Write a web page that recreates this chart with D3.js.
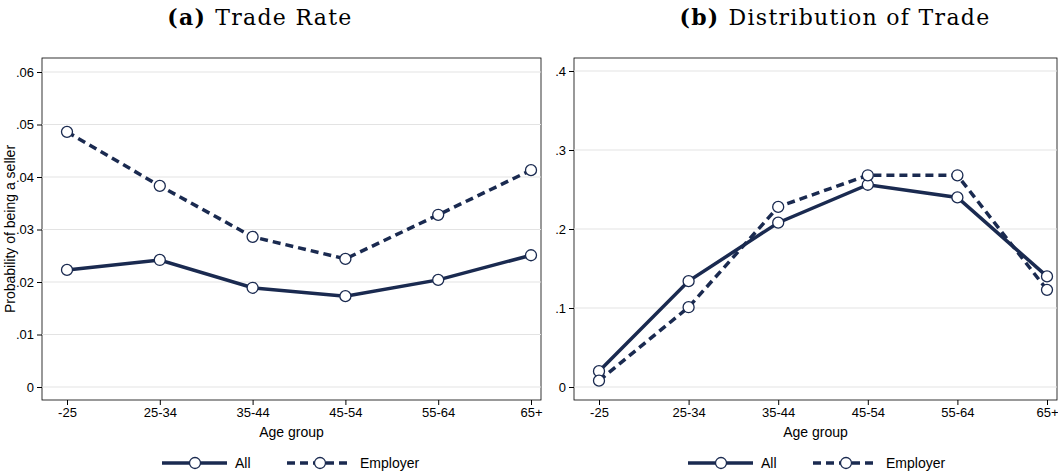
<!DOCTYPE html>
<html><head><meta charset="utf-8">
<script src="https://cdn.jsdelivr.net/npm/d3@7"></script>
<style>body{margin:0;background:#fff}</style>
</head><body>
<script>
var ages = ['-25','25-34','35-44','45-54','55-64','65+'];
var rateAll = [0.0223, 0.0242, 0.0189, 0.0173, 0.0204, 0.0251];
var rateEmp = [0.0486, 0.0383, 0.0286, 0.0244, 0.0328, 0.0413];
var distAll = [0.020, 0.134, 0.208, 0.256, 0.240, 0.140];
var distEmp = [0.008, 0.101, 0.228, 0.268, 0.268, 0.123];
var rateTicks = [0, .01, .02, .03, .04, .05, .06];
var distTicks = [0, .1, .2, .3, .4];
var navy = '#1a2a50';
var sans = "'Liberation Sans', Arial, sans-serif";

var svg = d3.select('body').append('svg').attr('width', 1058).attr('height', 474);

function panel(o) {
  var g = svg.append('g');
  var x = d3.scalePoint().domain(ages).range([o.x0 + 25, o.x1 - 10]);
  var y = d3.scaleLinear().domain(o.dom).range([387, o.yTop]);
  g.append('rect').attr('x', o.x0).attr('y', 58).attr('width', o.x1 - o.x0).attr('height', 342)
    .attr('fill', 'none').attr('stroke', '#000').attr('stroke-width', 0.8);
  g.selectAll('.grid').data(o.ticks).enter().append('line')
    .attr('x1', o.x0).attr('x2', o.x1).attr('y1', function(d){return y(d);}).attr('y2', function(d){return y(d);})
    .attr('stroke', '#e3e3e3').attr('stroke-width', 1);
  var fmt = function(d){ return d === 0 ? '0' : d3.format('.2~f')(d).replace(/^0/, ''); };
  g.append('g').attr('transform', 'translate(' + o.x0 + ',0)')
    .call(d3.axisLeft(y).tickValues(o.ticks).tickFormat(fmt).tickSize(5))
    .call(function(a){ a.select('.domain').remove(); a.selectAll('text').attr('font-size', 13).attr('fill', '#000').attr('font-family', sans); });
  g.append('g').attr('transform', 'translate(0,400)')
    .call(d3.axisBottom(x).tickSize(5))
    .call(function(a){ a.select('.domain').remove(); a.selectAll('text').attr('font-size', 13).attr('fill', '#000').attr('font-family', sans); });
  g.append('text').attr('x', (o.x0 + o.x1) / 2).attr('y', 437).attr('text-anchor', 'middle')
    .attr('font-size', 14).attr('font-family', sans).text('Age group');
  var t = g.append('text').attr('x', o.titleX).attr('y', 25).attr('text-anchor', 'middle')
    .attr('font-size', 22).attr('letter-spacing', 1.3).attr('font-family', "'DejaVu Serif', serif");
  t.append('tspan').attr('font-weight', 'bold').text(o.tag + ' ');
  t.append('tspan').text(o.title);
  var line = d3.line().x(function(d, i){ return x(ages[i]); }).y(function(d){ return y(d); });
  [[o.all, null], [o.emp, '8,5']].forEach(function(s){
    g.append('path').datum(s[0]).attr('d', line).attr('fill', 'none').attr('stroke', navy)
      .attr('stroke-width', 3.5).attr('stroke-dasharray', s[1]);
  });
  [o.all, o.emp].forEach(function(s){
    g.selectAll(null).data(s).enter().append('circle')
      .attr('cx', function(d, i){ return x(ages[i]); }).attr('cy', function(d){ return y(d); })
      .attr('r', 5.5).attr('fill', '#fff').attr('stroke', navy).attr('stroke-width', 1.3);
  });
  var lx = o.legX, ly = 463;
  [['All', null, lx], ['Employer', '8,5', lx + 125]].forEach(function(l){
    g.append('line').attr('x1', l[2]).attr('x2', l[2] + 65).attr('y1', ly).attr('y2', ly)
      .attr('stroke', navy).attr('stroke-width', 3.5).attr('stroke-dasharray', l[1]);
    g.append('circle').attr('cx', l[2] + 33).attr('cy', ly).attr('r', 5.5).attr('fill', '#fff')
      .attr('stroke', navy).attr('stroke-width', 1.3);
    g.append('text').attr('x', l[2] + 73).attr('y', ly + 5).attr('font-size', 14)
      .attr('font-family', sans).text(l[0]);
  });
}

panel({x0: 42, x1: 541, dom: [0, .06], yTop: 72, ticks: rateTicks, all: rateAll, emp: rateEmp,
  tag: '(a)', title: 'Trade Rate', legX: 162, titleX: 260});
panel({x0: 574, x1: 1057, dom: [0, .4], yTop: 71, ticks: distTicks, all: distAll, emp: distEmp,
  tag: '(b)', title: 'Distribution of Trade', legX: 688, titleX: 835});

svg.append('text').attr('transform', 'translate(15,229) rotate(-90)').attr('text-anchor', 'middle')
  .attr('font-size', 14).attr('font-family', sans).text('Probability of being a seller');
</script>
</body></html>
